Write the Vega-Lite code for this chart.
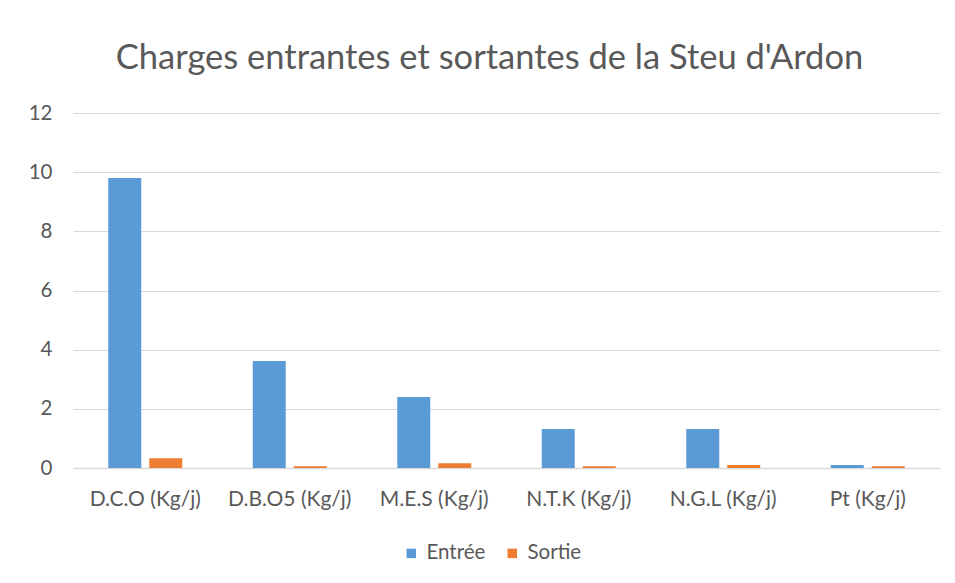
{
  "$schema": "https://vega.github.io/schema/vega-lite/v6.json",
  "width": 867,
  "height": 355,
  "autosize": {"type": "none"},
  "padding": {"left": 73, "top": 113, "right": 15, "bottom": 115},
  "background": "white",
  "title": {
    "text": "Charges entrantes et sortantes de la Steu d'Ardon",
    "font": "Lato",
    "fontSize": 34.5,
    "fontWeight": "normal",
    "color": "#595959",
    "anchor": "middle",
    "dx": -17,
    "offset": 27
  },
  "data": {
    "values": [
      {"param": "D.C.O (Kg/j)", "serie": "Entrée", "valeur": 9.8},
      {"param": "D.C.O (Kg/j)", "serie": "Sortie", "valeur": 0.33},
      {"param": "D.B.O5 (Kg/j)", "serie": "Entrée", "valeur": 3.62},
      {"param": "D.B.O5 (Kg/j)", "serie": "Sortie", "valeur": 0.06},
      {"param": "M.E.S (Kg/j)", "serie": "Entrée", "valeur": 2.4},
      {"param": "M.E.S (Kg/j)", "serie": "Sortie", "valeur": 0.16},
      {"param": "N.T.K (Kg/j)", "serie": "Entrée", "valeur": 1.32},
      {"param": "N.T.K (Kg/j)", "serie": "Sortie", "valeur": 0.06},
      {"param": "N.G.L (Kg/j)", "serie": "Entrée", "valeur": 1.32},
      {"param": "N.G.L (Kg/j)", "serie": "Sortie", "valeur": 0.1},
      {"param": "Pt (Kg/j)", "serie": "Entrée", "valeur": 0.1},
      {"param": "Pt (Kg/j)", "serie": "Sortie", "valeur": 0.06}
    ]
  },
  "mark": {"type": "bar"},
  "encoding": {
    "x": {
      "field": "param",
      "type": "nominal",
      "sort": null,
      "title": null,
      "scale": {"paddingInner": 0.488, "paddingOuter": 0.244},
      "axis": {
        "labelAngle": 0,
        "labelFont": "Lato",
        "labelFontSize": 21,
        "labelColor": "#595959",
        "labelPadding": 20,
        "ticks": false,
        "domainColor": "#d9d9d9",
        "domainWidth": 1.5,
        "grid": false
      }
    },
    "xOffset": {
      "field": "serie",
      "type": "nominal",
      "scale": {"paddingInner": 0.195, "paddingOuter": 0}
    },
    "y": {
      "field": "valeur",
      "type": "quantitative",
      "title": null,
      "scale": {"domain": [0, 12], "nice": false},
      "axis": {
        "values": [0, 2, 4, 6, 8, 10, 12],
        "labelFont": "Lato",
        "labelFontSize": 20.5,
        "labelColor": "#595959",
        "labelPadding": 21,
        "ticks": false,
        "domain": false,
        "gridColor": "#d9d9d9",
        "gridWidth": 1.2
      }
    },
    "color": {
      "field": "serie",
      "type": "nominal",
      "title": null,
      "scale": {"domain": ["Entrée", "Sortie"], "range": ["#5B9BD5", "#ED7D31"]},
      "legend": {
        "orient": "none",
        "legendX": 328,
        "legendY": 430,
        "direction": "horizontal",
        "symbolType": "square",
        "symbolSize": 90,
        "symbolStrokeWidth": 0,
        "labelFont": "Lato",
        "labelFontSize": 20.5,
        "labelColor": "#595959",
        "labelOffset": 5,
        "columnPadding": 16
      }
    }
  },
  "config": {"view": {"stroke": null}}
}
